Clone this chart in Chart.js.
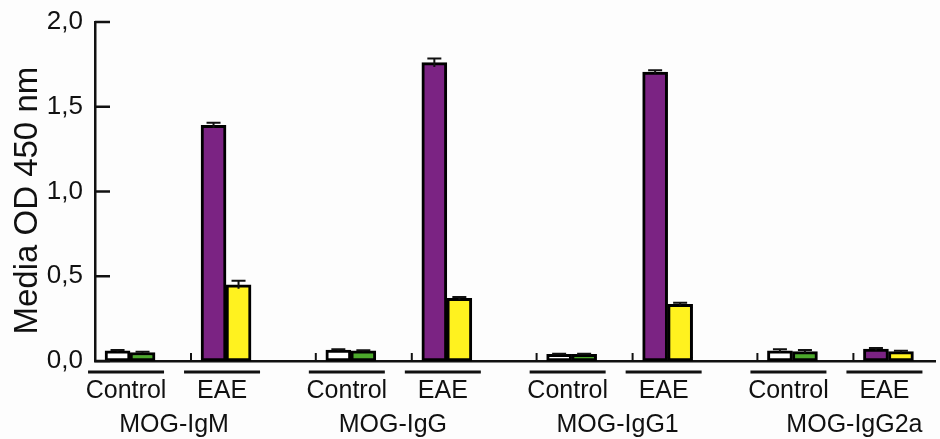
<!DOCTYPE html>
<html>
<head>
<meta charset="utf-8">
<script src="https://cdn.jsdelivr.net/npm/chart.js@4/dist/chart.umd.min.js"></script>
<style>
  html, body { margin: 0; padding: 0; background: #fdfdfd; }
  #wrap { width: 940px; height: 439px; }
</style>
</head>
<body>
<div id="wrap"><canvas id="c" width="940" height="439"></canvas></div>
<script>
// ---- data ----
const groups = ['MOG-IgM', 'MOG-IgG', 'MOG-IgG1', 'MOG-IgG2a'];
const conditions = ['Control', 'EAE'];
// first bar of each pair (Control: white, EAE: purple), order: group by group, Control then EAE
const firstBarValues = [0.06, 1.39, 0.065, 1.76, 0.04, 1.705, 0.06, 0.07];
const firstBarErrors = [0.005, 0.015, 0.005, 0.025, 0.003, 0.01, 0.01, 0.006];
// second bar of each pair (Control: green, EAE: yellow)
const secondBarValues = [0.05, 0.45, 0.06, 0.37, 0.04, 0.335, 0.055, 0.055];
const secondBarErrors = [0.004, 0.024, 0.004, 0.008, 0.003, 0.008, 0.01, 0.006];
const yTicks = [0, 0.5, 1.0, 1.5, 2.0];

// ---- styling / layout ----
const FONT = '"Liberation Sans", Arial, Helvetica, sans-serif';
const colorsFirst = { Control: '#ffffff', EAE: '#7b2383' };
const colorsSecond = { Control: '#4ca92c', EAE: '#fff21f' };
const GROUP_STEP = 2.3;    // layout spacing (axis units) between groups
const PAIR_OFFSET = 0.365; // small baseline tick sits this far left of each pair
const LABEL_SHIFT = -4;    // px: underline/label drift seen in the original
const GROUP_LABEL_SHIFT = [-4, -6, -2, 14]; // px, per group label

const pairs = [];
groups.forEach((g, gi) => conditions.forEach((c, ci) => pairs.push({ group: g, cond: c, pos: gi * GROUP_STEP + ci })));

const ds1 = pairs.map((p, i) => ({ x: p.pos, y: firstBarValues[i] }));
const ds2 = pairs.map((p, i) => ({ x: p.pos, y: secondBarValues[i] }));

const annot = {
  id: 'annot',
  afterDatasetsDraw(chart) {
    const ctx = chart.ctx;
    const xs = chart.scales.x, ys = chart.scales.y;
    const area = chart.chartArea;
    ctx.save();
    ctx.strokeStyle = '#111';
    ctx.fillStyle = '#111';
    // error bars
    [[0, firstBarValues, firstBarErrors], [1, secondBarValues, secondBarErrors]].forEach(([di, vals, errs]) => {
      const meta = chart.getDatasetMeta(di);
      meta.data.forEach((bar, i) => {
        const cx = bar.x;
        const top = ys.getPixelForValue(vals[i] + errs[i]);
        const bot = ys.getPixelForValue(vals[i] - errs[i]);
        ctx.lineWidth = 2;
        ctx.beginPath();
        ctx.moveTo(cx, bot); ctx.lineTo(cx, top);
        ctx.moveTo(cx - 7, top); ctx.lineTo(cx + 7, top);
        ctx.stroke();
      });
    });
    // inward y ticks
    ctx.lineWidth = 2.5;
    yTicks.forEach(v => {
      const py = ys.getPixelForValue(v);
      ctx.beginPath();
      ctx.moveTo(area.left, py); ctx.lineTo(area.left + 15, py);
      ctx.stroke();
    });
    // small baseline ticks before each pair
    ctx.lineWidth = 2;
    pairs.forEach(p => {
      const px = xs.getPixelForValue(p.pos - PAIR_OFFSET);
      ctx.beginPath();
      ctx.moveTo(px, area.bottom); ctx.lineTo(px, area.bottom - 8);
      ctx.stroke();
    });
    // condition underlines and labels
    ctx.textAlign = 'center';
    ctx.textBaseline = 'middle';
    ctx.font = '25px ' + FONT;
    pairs.forEach(p => {
      const px = xs.getPixelForValue(p.pos) + LABEL_SHIFT;
      ctx.lineWidth = 3;
      ctx.beginPath();
      ctx.moveTo(px - 38, area.bottom + 11); ctx.lineTo(px + 38, area.bottom + 11);
      ctx.stroke();
      ctx.fillText(p.cond, px, area.bottom + 30);
    });
    groups.forEach((g, gi) => {
      const px = (xs.getPixelForValue(gi * GROUP_STEP) + xs.getPixelForValue(gi * GROUP_STEP + 1)) / 2;
      ctx.fillText(g, px + GROUP_LABEL_SHIFT[gi], area.bottom + 64);
    });
    ctx.restore();
  }
};

new Chart(document.getElementById('c'), {
  type: 'bar',
  data: {
    datasets: [
      { label: 'first', data: ds1, backgroundColor: pairs.map(p => colorsFirst[p.cond]),
        borderColor: '#000', borderWidth: 3, borderSkipped: false },
      { label: 'second', data: ds2, backgroundColor: pairs.map(p => colorsSecond[p.cond]),
        borderColor: '#000', borderWidth: 3, borderSkipped: false }
    ]
  },
  options: {
    responsive: false,
    animation: false,
    maintainAspectRatio: false,
    layout: { padding: { top: 22, right: 5, left: 0, bottom: 0 } },
    barThickness: 25,
    plugins: { legend: { display: false }, tooltip: { enabled: false } },
    scales: {
      x: {
        type: 'linear',
        offset: false,
        min: -PAIR_OFFSET,
        max: 8.385,
        grid: { display: false, drawTicks: false, offset: false },
        border: { display: true, color: '#111', width: 2.5 },
        ticks: { display: false },
        afterFit(s) { s.height = 78; }
      },
      y: {
        min: 0, max: 2,
        afterBuildTicks(s) { s.ticks = yTicks.map(v => ({ value: v })); },
        grid: { display: false, drawTicks: false },
        border: { display: true, color: '#111', width: 2.5 },
        ticks: {
          color: '#111', padding: 12,
          font: { family: FONT, size: 26 },
          callback: v => Number(v).toFixed(1).replace('.', ',')
        },
        title: {
          display: true, text: 'Media OD 450 nm  ', color: '#111',
          font: { family: FONT, size: 33 }, padding: { top: 8, bottom: 0 }
        },
        afterFit(s) { s.width = 95; s.paddingTop = 0; s.paddingBottom = 0; }
      }
    }
  },
  plugins: [annot]
});
</script>
</body>
</html>
